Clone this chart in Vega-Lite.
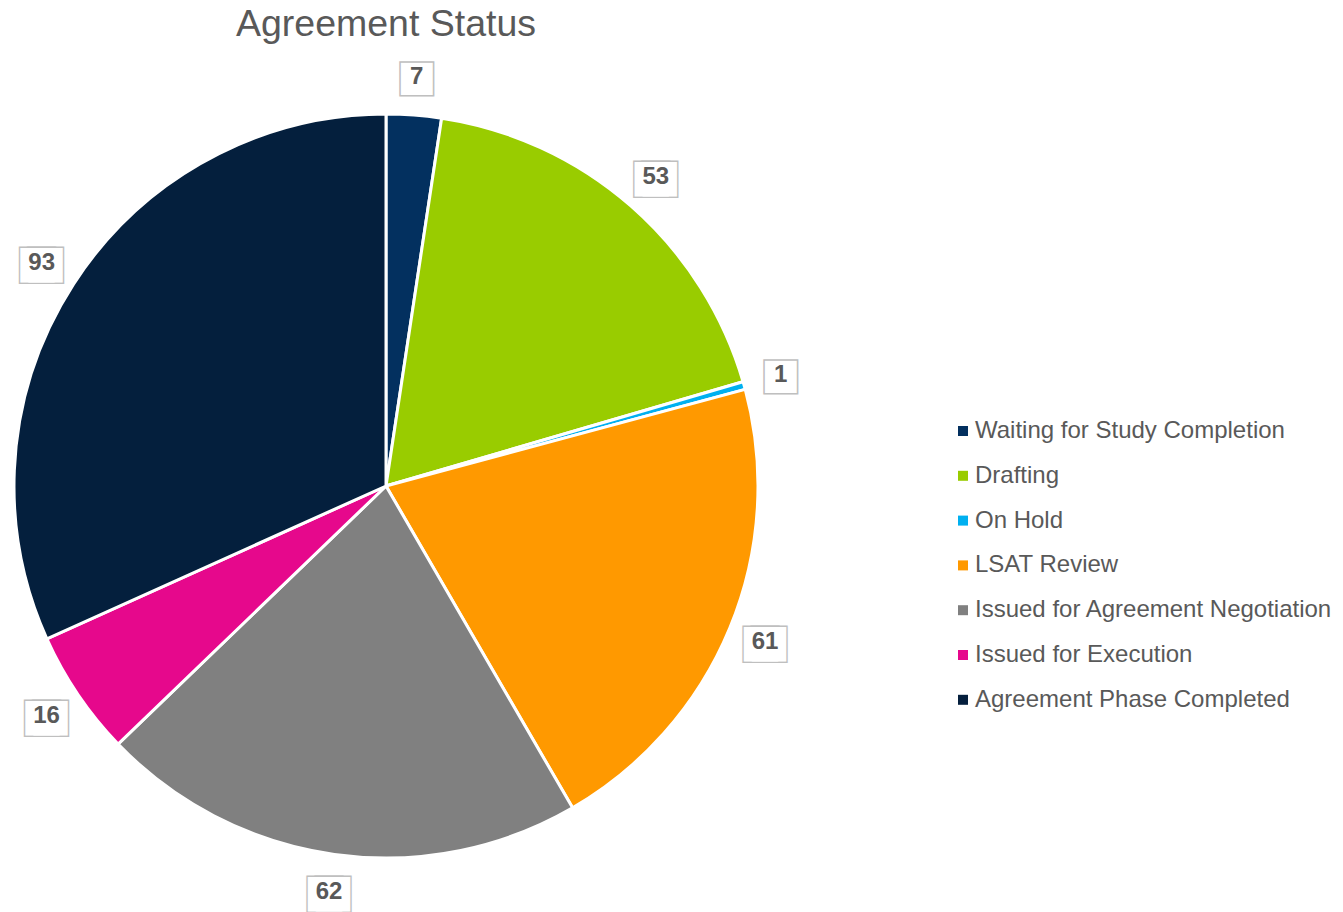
{
  "$schema": "https://vega.github.io/schema/vega-lite/v6.json",
  "width": 772,
  "height": 774,
  "padding": {"left": 0, "top": 6, "right": 0, "bottom": 0},
  "background": "white",
  "title": {"text": "Agreement Status", "fontSize": 37.5, "fontWeight": "normal", "font": "Liberation Sans", "color": "#595959", "offset": 11.5, "anchor": "middle"},
  "data": {"values": [
    {"status": "Waiting for Study Completion", "count": 7, "idx": 1},
    {"status": "Drafting", "count": 53, "idx": 2},
    {"status": "On Hold", "count": 1, "idx": 3},
    {"status": "LSAT Review", "count": 61, "idx": 4},
    {"status": "Issued for Agreement Negotiation", "count": 62, "idx": 5},
    {"status": "Issued for Execution", "count": 16, "idx": 6},
    {"status": "Agreement Phase Completed", "count": 93, "idx": 7}
  ]},
  "encoding": {
    "theta": {"field": "count", "type": "quantitative", "stack": true},
    "order": {"field": "idx", "type": "quantitative"}
  },
  "layer": [
    {
      "mark": {"type": "arc", "outerRadius": 372, "stroke": "white", "strokeWidth": 3},
      "encoding": {
        "color": {"field": "status", "type": "nominal", "sort": null,
          "scale": {"domain": ["Waiting for Study Completion", "Drafting", "On Hold", "LSAT Review", "Issued for Agreement Negotiation", "Issued for Execution", "Agreement Phase Completed"],
                    "range": ["#03305F", "#99CC00", "#00B0F0", "#FF9900", "#808080", "#E6088C", "#041F3D"]},
          "legend": {"title": null, "orient": "none", "legendX": 951, "legendY": 320, "symbolType": "square", "symbolSize": 100, "symbolStrokeWidth": 0, "labelFontSize": 24, "labelFont": "Liberation Sans", "labelColor": "#595959", "rowPadding": 20.8, "labelOffset": 0, "labelLimit": 420}
        }
      }
    },
    {
      "mark": {"type": "text", "radius": 410, "text": "■", "font": "DejaVu Sans", "fontSize": 44, "fill": "white", "stroke": "#BFBFBF", "strokeWidth": 1.5, "baseline": "middle", "align": "center"},
      "encoding": {
        "detail": {"field": "status"},
        "opacity": {"condition": {"test": "datum.count < 10", "value": 1}, "value": 0}
      }
    },
    {
      "mark": {"type": "text", "radius": 410, "text": "■", "font": "DejaVu Sans", "fontSize": 45, "dx": -4, "fill": "white", "stroke": "#BFBFBF", "strokeWidth": 3, "baseline": "middle", "align": "center"},
      "encoding": {
        "detail": {"field": "status"},
        "opacity": {"condition": {"test": "datum.count >= 10", "value": 1}, "value": 0}
      }
    },
    {
      "mark": {"type": "text", "radius": 410, "text": "■", "font": "DejaVu Sans", "fontSize": 45, "dx": 4, "fill": "white", "stroke": "#BFBFBF", "strokeWidth": 3, "baseline": "middle", "align": "center"},
      "encoding": {
        "detail": {"field": "status"},
        "opacity": {"condition": {"test": "datum.count >= 10", "value": 1}, "value": 0}
      }
    },
    {
      "mark": {"type": "text", "radius": 410, "text": "■", "font": "DejaVu Sans", "fontSize": 45, "dx": -4, "fill": "white", "baseline": "middle", "align": "center"},
      "encoding": {
        "detail": {"field": "status"},
        "opacity": {"condition": {"test": "datum.count >= 10", "value": 1}, "value": 0}
      }
    },
    {
      "mark": {"type": "text", "radius": 410, "text": "■", "font": "DejaVu Sans", "fontSize": 45, "dx": 4, "fill": "white", "baseline": "middle", "align": "center"},
      "encoding": {
        "detail": {"field": "status"},
        "opacity": {"condition": {"test": "datum.count >= 10", "value": 1}, "value": 0}
      }
    },
    {
      "mark": {"type": "text", "radius": 410, "font": "Liberation Sans", "fontSize": 24, "fontWeight": "bold", "fill": "#595959", "baseline": "middle", "align": "center"},
      "encoding": {"detail": {"field": "status"}, "text": {"field": "count", "type": "quantitative"}}
    }
  ]
}
